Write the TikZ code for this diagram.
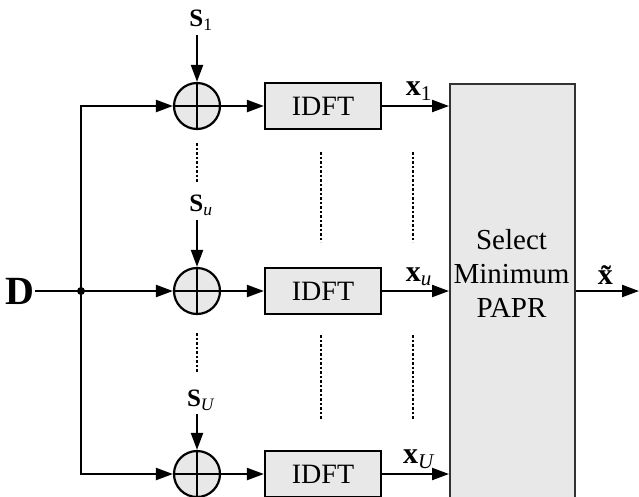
\documentclass[tikz,border=0pt]{standalone}
\usepackage{fontspec}
\setmainfont{Liberation Serif}
\usetikzlibrary{arrows.meta}
\definecolor{boxgray}{HTML}{E8E8E8}
\begin{document}
\begin{tikzpicture}[x=1pt,y=-1pt,
  line width=2.2pt,
  arr/.style={-{Triangle[length=17pt,width=12pt]}},
  sumc/.style={circle,draw,fill=boxgray,minimum size=46pt,inner sep=0pt},
  idft/.style={rectangle,draw,fill=boxgray,minimum width=116pt,minimum height=46pt,inner sep=0pt,font=\fontsize{28}{30}\selectfont},
  slab/.style={inner sep=1pt,font=\fontsize{25}{28}\selectfont},
  xlab/.style={inner sep=1pt,font=\fontsize{30}{32}\selectfont},
  dots/.style={line width=2pt,dash pattern=on 2.5pt off 2pt}
]
\clip (0,0) rectangle (639,496);
\useasboundingbox (0,0) rectangle (639,496);
% select box
\node[rectangle,draw=black!80,line width=1.6pt,fill=boxgray,minimum width=125pt,minimum height=440pt,anchor=north west,inner sep=0pt] (sel) at (449,83) {};
\node[align=center,font=\fontsize{29}{34}\selectfont,inner sep=0pt] (seltxt) at (511.5,273) {Select\\Minimum\\PAPR};
% summers
\foreach \n/\y in {1/106,2/291,3/474}{
  \node[sumc] (c\n) at (197,\y) {};
  \draw (c\n.north) -- (c\n.south);
  \draw (c\n.west) -- (c\n.east);
  \node[idft] (i\n) at (323,\y) {IDFT};
  \draw[arr] (c\n) -- (i\n);
}
% input
\node[font=\fontsize{40}{44}\bfseries,inner sep=0pt,anchor=east] (D) at (35,291) {D};
\coordinate (j) at (81,291);
\draw (D.east) -- (j);
\fill (j) circle (4pt);
\draw[arr] (j) -- (c2);
\draw[arr] (j) |- (c1);
\draw[arr] (j) |- (c3);
% S inputs
\node[slab] (s1) at (201,20) {\textbf{S}\textsubscript{1}};
\node[slab] (su) at (201,205) {\textbf{S}\textsubscript{\textit{u}}};
\node[slab] (sU) at (201,400) {\textbf{S}\textsubscript{\textit{U}}};
\draw[arr] (197,35) -- (c1.north);
\draw[arr] (197,220) -- (c2.north);
\draw[arr] (197,414) -- (c3.north);
% outputs to select
\draw[arr] (i1.east) -- (i1.east -| sel.west) node[xlab,pos=0.55,above=3pt] {\textbf{x}\textsubscript{1}};
\draw[arr] (i2.east) -- (i2.east -| sel.west) node[xlab,pos=0.55,above=3pt] {\textbf{x}\textsubscript{\textit{u}}};
\draw[arr] (i3.east) -- (i3.east -| sel.west) node[xlab,pos=0.55,above=3pt] {\textbf{x}\textsubscript{\textit{U}}};
\coordinate (out) at (639,291);
\draw[arr] (sel.east |- c2) -- (out) node[xlab,pos=0.55,above=4pt] {\textbf{\~x}};
% dotted continuation marks
\draw[dots] (197,143) -- (197,182);
\draw[dots] (197,333) -- (197,373);
\draw[dots] (321,152) -- (321,242);
\draw[dots] (321,335) -- (321,420);
\draw[dots] (413,152) -- (413,242);
\draw[dots] (413,335) -- (413,420);
\end{tikzpicture}
\end{document}
